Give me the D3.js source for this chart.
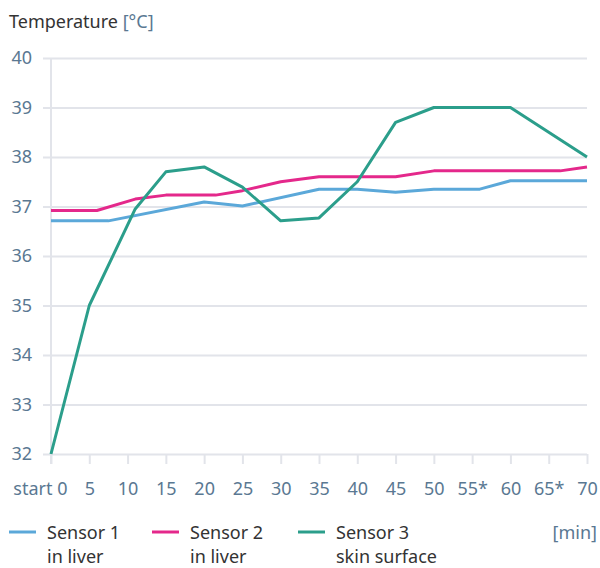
<!DOCTYPE html>
<html>
<head>
<meta charset="utf-8">
<script src="https://cdn.jsdelivr.net/npm/d3@7"></script>
<style>
  html, body { margin: 0; padding: 0; background: #fff; }
  svg { display: block; font-family: "Noto Sans", "Open Sans", sans-serif; }
</style>
</head>
<body>
<svg id="chart" width="600" height="568"></svg>
<script>
// ── Data ─────────────────────────────────────────────
const xTicks = [0, 5, 10, 15, 20, 25, 30, 35, 40, 45, 50, 55, 60, 65, 70];
const xTickLabels = ['start 0', '5', '10', '15', '20', '25', '30', '35', '40', '45', '50', '55*', '60', '65*', '70'];
const yTicks = [32, 33, 34, 35, 36, 37, 38, 39, 40];

const sensor1 = [
  [0, 36.71], [7.5, 36.71], [20, 37.09], [25, 37.01], [35, 37.35], [40, 37.35],
  [45, 37.29], [50, 37.35], [56, 37.35], [60, 37.52], [70, 37.52]
];
const sensor2 = [
  [0, 36.92], [6, 36.92], [11, 37.15], [15, 37.23], [21.5, 37.23], [25, 37.32],
  [30, 37.5], [35, 37.6], [45, 37.6], [50, 37.72], [66.5, 37.72], [70, 37.8]
];
const sensor3 = [
  [0, 32], [5, 35], [11, 36.95], [15, 37.7], [20, 37.8], [25, 37.39], [30, 36.71],
  [35, 36.77], [40, 37.5], [45, 38.7], [50, 39], [60, 39], [70, 38]
];

const series = [
  { name: ['Sensor 1', 'in liver'],     color: '#5ba8d9', values: sensor1 },
  { name: ['Sensor 2', 'in liver'],     color: '#e4288b', values: sensor2 },
  { name: ['Sensor 3', 'skin surface'], color: '#2b9e8b', values: sensor3 },
];

// ── Setup ────────────────────────────────────────────
const svg = d3.select('#chart');
const slate = '#5a7892';
const grid  = '#e2e4ea';

const x = d3.scaleLinear().domain([0, 70]).range([51, 587]);
const y = d3.scaleLinear().domain([32, 40]).range([454, 58]);

// Title
const title = svg.append('text')
  .attr('x', 9).attr('y', 28)
  .attr('font-size', 18).attr('fill', '#333');
title.append('tspan').text('Temperature ');
title.append('tspan').attr('fill', slate).text('[°C]');

// Y grid + labels
const yAxis = svg.append('g')
  .attr('transform', 'translate(43,0)')
  .call(d3.axisLeft(y).tickValues(yTicks).tickSize(-(587 - 43)).tickPadding(11));
yAxis.select('.domain').remove();
yAxis.selectAll('.tick line').attr('stroke', grid).attr('stroke-width', 2);
yAxis.selectAll('.tick text')
  .attr('font-size', 18).attr('fill', slate)
  .attr('font-family', '"Noto Sans", sans-serif');

// X ticks + labels
const xAxis = svg.append('g')
  .attr('transform', `translate(0,${y(32)})`)
  .call(d3.axisBottom(x).tickValues(xTicks).tickSize(10)
    .tickFormat((d, i) => xTickLabels[i]));
xAxis.select('.domain').remove();
xAxis.selectAll('.tick line').attr('stroke', grid).attr('stroke-width', 2);
xAxis.selectAll('.tick text')
  .attr('y', 41).attr('dy', 0)
  .attr('font-size', 18).attr('fill', slate)
  .attr('font-family', '"Noto Sans", sans-serif');
xAxis.selectAll('.tick text').filter(d => d === 0)
  .attr('text-anchor', 'end').attr('x', 16);

// Vertical axis line
svg.append('line')
  .attr('x1', x(0)).attr('x2', x(0))
  .attr('y1', y(40)).attr('y2', y(32) + 10)
  .attr('stroke', grid).attr('stroke-width', 2);

// ── Lines ────────────────────────────────────────────
const line = d3.line().x(d => x(d[0])).y(d => y(d[1]));

svg.append('g').selectAll('path')
  .data(series)
  .join('path')
  .attr('d', d => line(d.values))
  .attr('fill', 'none')
  .attr('stroke', d => d.color)
  .attr('stroke-width', 3)
  .attr('stroke-linejoin', 'round');

// ── Legend ───────────────────────────────────────────
const legendX = [9, 152, 298];
const lg = svg.append('g').selectAll('g')
  .data(series)
  .join('g')
  .attr('transform', (d, i) => `translate(${legendX[i]},0)`);

lg.append('line')
  .attr('x1', 0).attr('x2', 27)
  .attr('y1', 532).attr('y2', 532)
  .attr('stroke', d => d.color).attr('stroke-width', 3);

lg.append('text')
  .attr('x', 38).attr('y', 539)
  .attr('font-size', 18).attr('fill', '#333')
  .text(d => d.name[0]);
lg.append('text')
  .attr('x', 38).attr('y', 563)
  .attr('font-size', 18).attr('fill', '#333')
  .text(d => d.name[1]);

svg.append('text')
  .attr('x', 597).attr('y', 539)
  .attr('text-anchor', 'end')
  .attr('font-size', 18).attr('fill', slate)
  .text('[min]');
</script>
</body>
</html>
